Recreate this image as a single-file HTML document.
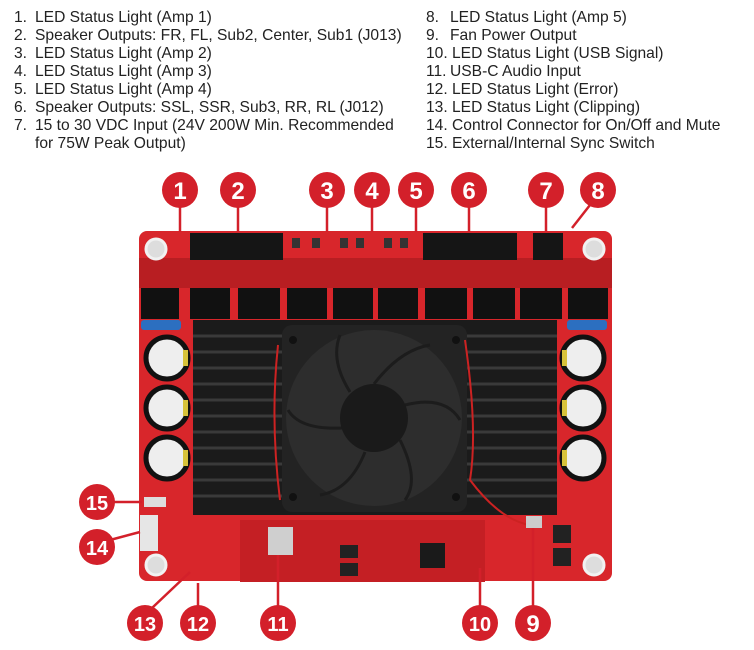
<!DOCTYPE html>
<html><head><meta charset="utf-8"><style>
html,body{margin:0;padding:0;background:#fff}
svg{display:block}
.t{font-family:"Liberation Sans",sans-serif;font-size:15.6px;fill:#222}
.n{font-family:"Liberation Sans",sans-serif;font-weight:bold;font-size:24px;fill:#fff;text-anchor:middle}
</style></head><body>
<svg width="754" height="650" viewBox="0 0 754 650" xmlns="http://www.w3.org/2000/svg">
<g class="t">
<text x="14" y="22">1.</text><text x="35" y="22">LED Status Light (Amp 1)</text>
<text x="14" y="40">2.</text><text x="35" y="40">Speaker Outputs: FR, FL, Sub2, Center, Sub1 (J013)</text>
<text x="14" y="58">3.</text><text x="35" y="58">LED Status Light (Amp 2)</text>
<text x="14" y="76">4.</text><text x="35" y="76">LED Status Light (Amp 3)</text>
<text x="14" y="94">5.</text><text x="35" y="94">LED Status Light (Amp 4)</text>
<text x="14" y="112">6.</text><text x="35" y="112">Speaker Outputs: SSL, SSR, Sub3, RR, RL (J012)</text>
<text x="14" y="130">7.</text><text x="35" y="130">15 to 30 VDC Input (24V 200W Min. Recommended</text>
<text x="35" y="148">for 75W Peak Output)</text>
<text x="426" y="22">8.</text><text x="450" y="22">LED Status Light (Amp 5)</text>
<text x="426" y="40">9.</text><text x="450" y="40">Fan Power Output</text>
<text x="426" y="58">10. LED Status Light (USB Signal)</text>
<text x="426" y="76">11.</text><text x="450" y="76">USB-C Audio Input</text>
<text x="426" y="94">12. LED Status Light (Error)</text>
<text x="426" y="112">13. LED Status Light (Clipping)</text>
<text x="426" y="130">14. Control Connector for On/Off and Mute</text>
<text x="426" y="148">15. External/Internal Sync Switch</text>
</g>
<!-- board -->
<rect x="139" y="231" width="473" height="350" rx="8" fill="#d8262b"/>
<rect x="139" y="258" width="473" height="30" fill="#b81e22"/>
<!-- connectors -->
<rect x="190" y="233" width="93" height="27" fill="#151515"/>
<rect x="423" y="233" width="94" height="27" fill="#151515"/>
<rect x="533" y="233" width="30" height="27" fill="#151515"/>
<g fill="#333"><rect x="292" y="238" width="8" height="10"/><rect x="312" y="238" width="8" height="10"/><rect x="340" y="238" width="8" height="10"/><rect x="356" y="238" width="8" height="10"/><rect x="384" y="238" width="8" height="10"/><rect x="400" y="238" width="8" height="10"/></g>
<!-- inductor row -->
<g fill="#111">
<rect x="141" y="288" width="38" height="31"/><rect x="190" y="288" width="40" height="31"/><rect x="238" y="288" width="42" height="31"/><rect x="287" y="288" width="40" height="31"/><rect x="333" y="288" width="40" height="31"/><rect x="378" y="288" width="40" height="31"/><rect x="425" y="288" width="42" height="31"/><rect x="473" y="288" width="42" height="31"/><rect x="520" y="288" width="42" height="31"/><rect x="568" y="288" width="40" height="31"/>
</g>
<rect x="141" y="320" width="40" height="10" rx="3" fill="#2c6fc0"/>
<rect x="567" y="320" width="40" height="10" rx="3" fill="#2c6fc0"/>
<!-- heatsink -->
<rect x="193" y="320" width="364" height="195" fill="#1b1b1b"/>
<g stroke="#3a3a3a" stroke-width="3">
<line x1="193" y1="336" x2="557" y2="336"/><line x1="193" y1="352" x2="557" y2="352"/><line x1="193" y1="368" x2="557" y2="368"/><line x1="193" y1="384" x2="557" y2="384"/><line x1="193" y1="400" x2="557" y2="400"/><line x1="193" y1="416" x2="557" y2="416"/><line x1="193" y1="432" x2="557" y2="432"/><line x1="193" y1="448" x2="557" y2="448"/><line x1="193" y1="464" x2="557" y2="464"/><line x1="193" y1="480" x2="557" y2="480"/><line x1="193" y1="496" x2="557" y2="496"/>
</g>
<!-- fan -->
<rect x="282" y="325" width="185" height="187" rx="10" fill="#232323"/>
<circle cx="374" cy="418" r="88" fill="#2d2d2d"/>
<g stroke="#1c1c1c" stroke-width="3" fill="none">
<path d="M374 384 Q400 350 430 345"/><path d="M405 405 Q445 395 460 420"/><path d="M400 440 Q420 480 405 500"/><path d="M365 452 Q350 490 320 495"/><path d="M342 428 Q300 430 288 410"/><path d="M350 392 Q330 360 340 335"/>
</g>
<circle cx="374" cy="418" r="34" fill="#1a1a1a"/>
<g fill="#111"><circle cx="293" cy="340" r="4"/><circle cx="456" cy="340" r="4"/><circle cx="293" cy="497" r="4"/><circle cx="456" cy="497" r="4"/></g>
<path d="M465 340 Q478 430 470 480 Q500 520 530 525" stroke="#c22" stroke-width="2" fill="none"/>
<path d="M278 345 Q270 420 280 500" stroke="#c22" stroke-width="2" fill="none"/>
<!-- capacitors -->
<g stroke="#111" stroke-width="5" fill="#eee">
<circle cx="167" cy="358" r="21"/><circle cx="167" cy="408" r="21"/><circle cx="167" cy="458" r="21"/>
<circle cx="583" cy="358" r="21"/><circle cx="583" cy="408" r="21"/><circle cx="583" cy="458" r="21"/>
</g>
<g fill="#d8c23a"><rect x="183" y="350" width="5" height="16"/><rect x="183" y="400" width="5" height="16"/><rect x="183" y="450" width="5" height="16"/><rect x="562" y="350" width="5" height="16"/><rect x="562" y="400" width="5" height="16"/><rect x="562" y="450" width="5" height="16"/></g>
<!-- bottom parts -->
<rect x="240" y="520" width="245" height="62" fill="#c41f24"/>
<rect x="140" y="515" width="18" height="36" fill="#e6e6e6"/>
<rect x="144" y="497" width="22" height="10" fill="#ddd"/>
<rect x="268" y="527" width="25" height="28" fill="#cfcfcf"/>
<rect x="420" y="543" width="25" height="25" fill="#1a1a1a"/>
<rect x="340" y="545" width="18" height="13" fill="#222"/><rect x="340" y="563" width="18" height="13" fill="#222"/>
<rect x="553" y="525" width="18" height="18" fill="#222"/><rect x="553" y="548" width="18" height="18" fill="#222"/>
<rect x="526" y="516" width="16" height="12" fill="#ccc"/>
<g fill="#ddd" stroke="#f1f1f1" stroke-width="3">
<circle cx="156" cy="249" r="10"/><circle cx="594" cy="249" r="10"/><circle cx="156" cy="565" r="10"/><circle cx="594" cy="565" r="10"/>
</g>
<!-- leader lines -->
<g stroke="#d3202a" stroke-width="2.5">
<line x1="180" y1="205" x2="180" y2="232"/><line x1="238" y1="205" x2="238" y2="232"/><line x1="327" y1="205" x2="327" y2="232"/><line x1="372" y1="205" x2="372" y2="232"/><line x1="416" y1="205" x2="416" y2="232"/><line x1="469" y1="205" x2="469" y2="232"/><line x1="546" y1="205" x2="546" y2="232"/><line x1="590" y1="205" x2="572" y2="228"/>
<line x1="112" y1="502" x2="142" y2="502"/><line x1="110" y1="540" x2="140" y2="532"/>
<line x1="152" y1="608" x2="190" y2="572"/><line x1="198" y1="606" x2="198" y2="583"/><line x1="278" y1="606" x2="278" y2="555"/><line x1="480" y1="606" x2="480" y2="568"/><line x1="533" y1="606" x2="533" y2="528"/>
</g>
<g fill="#d3202a">
<circle cx="180" cy="190" r="18"/><circle cx="238" cy="190" r="18"/><circle cx="327" cy="190" r="18"/><circle cx="372" cy="190" r="18"/><circle cx="416" cy="190" r="18"/><circle cx="469" cy="190" r="18"/><circle cx="546" cy="190" r="18"/><circle cx="598" cy="190" r="18"/>
<circle cx="97" cy="502" r="18"/><circle cx="97" cy="547" r="18"/>
<circle cx="145" cy="623" r="18"/><circle cx="198" cy="623" r="18"/><circle cx="278" cy="623" r="18"/><circle cx="480" cy="623" r="18"/><circle cx="533" cy="623" r="18"/>
</g>
<g class="n">
<text x="180" y="199">1</text><text x="238" y="199">2</text><text x="327" y="199">3</text><text x="372" y="199">4</text><text x="416" y="199">5</text><text x="469" y="199">6</text><text x="546" y="199">7</text><text x="598" y="199">8</text>
<text x="97" y="510" font-size="20">15</text><text x="97" y="555" font-size="20">14</text>
<text x="145" y="631" font-size="20">13</text><text x="198" y="631" font-size="20">12</text><text x="278" y="631" font-size="20">11</text><text x="480" y="631" font-size="20">10</text><text x="533" y="632">9</text>
</g>
</svg>
</body></html>
